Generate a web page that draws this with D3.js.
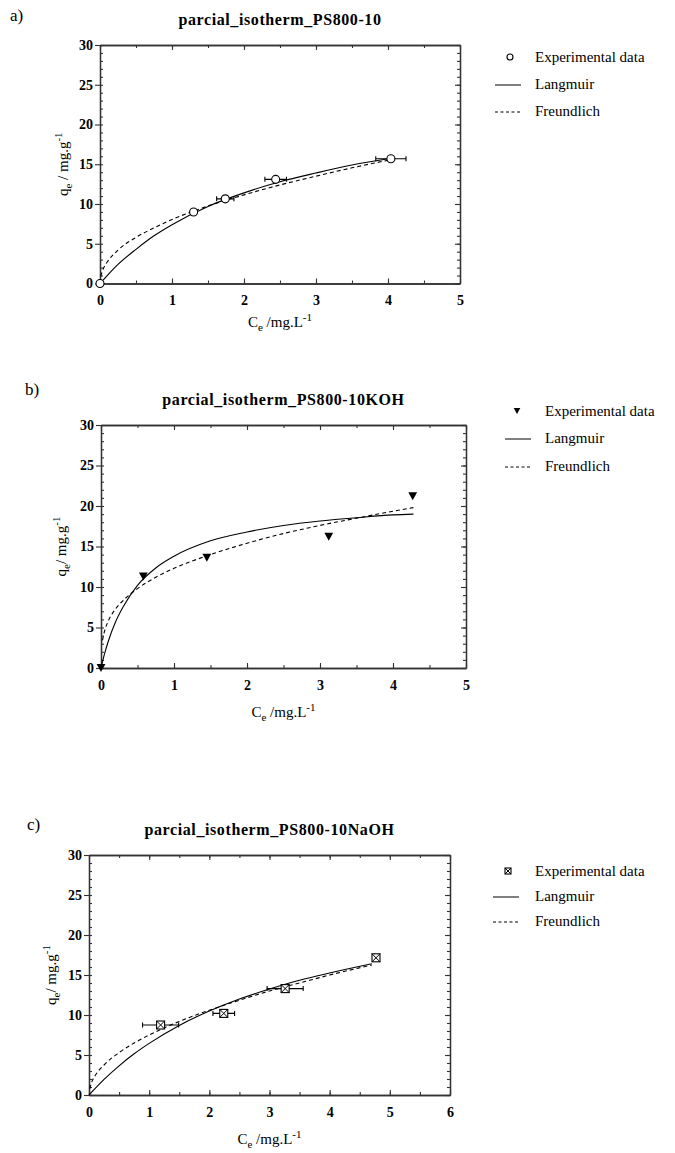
<!DOCTYPE html>
<html>
<head>
<meta charset="utf-8">
<script src="https://cdn.jsdelivr.net/npm/d3@7"></script>
<style>
  body { margin: 0; background: #fff; }
  svg { display: block; font-family: "Liberation Serif", "Times New Roman", serif; }
</style>
</head>
<body>
<svg id="chart" width="675" height="1153"></svg>
<script>
// panel a: PS800-10
const aExpC = [0, 1.30, 1.74, 2.44, 4.04];
const aExpQ = [0, 9.0, 10.65, 13.1, 15.7];
const aExpErr = [0, 0.04, 0.12, 0.15, 0.21];
const aLangC = [0, 0.1, 0.25, 0.5, 0.75, 1, 1.5, 2, 2.5, 3, 3.5, 4.05];
const aLangQ = [0, 1.0, 2.4, 4.3, 6.0, 7.4, 9.7, 11.4, 12.8, 13.9, 14.9, 15.75];
const aFreuC = [0.01, 0.05, 0.1, 0.25, 0.5, 0.75, 1, 1.5, 2, 2.5, 3, 3.5, 4.05];
const aFreuQ = [0.9, 1.95, 2.7, 4.2, 5.8, 7.0, 8.05, 9.75, 11.15, 12.4, 13.5, 14.55, 15.6];

// panel b: PS800-10KOH
const bExpC = [0, 0.58, 1.45, 3.12, 4.27];
const bExpQ = [0, 11.3, 13.6, 16.2, 21.2];
const bLangC = [0, 0.05, 0.1, 0.2, 0.3, 0.5, 0.75, 1, 1.5, 2, 2.5, 3, 3.5, 4, 4.28];
const bLangQ = [0, 1.8, 3.3, 5.7, 7.5, 10.2, 12.35, 13.8, 15.7, 16.8, 17.6, 18.15, 18.55, 18.9, 19.0];
const bFreuC = [0.02, 0.05, 0.1, 0.2, 0.3, 0.5, 0.75, 1, 1.5, 2, 2.5, 3, 3.5, 4, 4.28];
const bFreuQ = [3.4, 4.6, 5.8, 7.3, 8.3, 9.8, 11.2, 12.3, 14.0, 15.4, 16.6, 17.6, 18.5, 19.35, 19.8];

// panel c: PS800-10NaOH
const cExpC = [1.19, 2.24, 3.26, 4.77];
const cExpQ = [8.75, 10.2, 13.3, 17.15];
const cExpErr = [0.30, 0.18, 0.30, 0.05];
const cLangC = [0, 0.25, 0.5, 0.75, 1, 1.5, 2, 2.5, 3, 3.5, 4, 4.7];
const cLangQ = [0, 1.95, 3.65, 5.15, 6.45, 8.7, 10.5, 12.0, 13.25, 14.35, 15.25, 16.4];
const cFreuC = [0.01, 0.05, 0.1, 0.25, 0.5, 0.75, 1, 1.5, 2, 2.5, 3, 3.5, 4, 4.7];
const cFreuQ = [0.75, 1.7, 2.4, 3.75, 5.3, 6.5, 7.5, 9.2, 10.6, 11.85, 13.0, 14.0, 15.0, 16.25];

const legendLabels = ["Experimental data", "Langmuir", "Freundlich"];

const svg = d3.select("#chart");

function zip(cs, qs, errs) {
  return cs.map((c, i) => ({ c, q: qs[i], err: errs ? errs[i] : 0 }));
}

function drawMarker(g, type, cx, cy, s = 4) {
  if (type === "circle") {
    g.append("circle").attr("cx", cx).attr("cy", cy).attr("r", s)
      .attr("fill", "#fff").attr("stroke", "#000").attr("stroke-width", 1.1);
  } else if (type === "triangle") {
    g.append("path")
      .attr("d", `M${cx - s * 1.1},${cy - s} L${cx + s * 1.1},${cy - s} L${cx},${cy + s} Z`)
      .attr("fill", "#000");
  } else {
    g.append("rect").attr("x", cx - s).attr("y", cy - s).attr("width", 2 * s).attr("height", 2 * s)
      .attr("fill", "#fff").attr("stroke", "#000").attr("stroke-width", 1.1);
    g.append("path")
      .attr("d", `M${cx - s},${cy - s} L${cx + s},${cy + s} M${cx + s},${cy - s} L${cx - s},${cy + s}`)
      .attr("stroke", "#000").attr("stroke-width", 1);
  }
}

function drawPanel(cfg) {
  const { left, right, top, bottom, xMax } = cfg;
  const x = d3.scaleLinear().domain([0, xMax]).range([left, right]);
  const y = d3.scaleLinear().domain([0, 30]).range([bottom, top]);
  const g = svg.append("g");

  // panel letter and title
  g.append("text").attr("x", cfg.letterX).attr("y", cfg.letterY)
    .style("font-size", "17px").text(cfg.letter);
  g.append("text").attr("x", (left + right) / 2).attr("y", cfg.titleY)
    .attr("text-anchor", "middle")
    .style("font-size", "16px").style("font-weight", "bold").style("letter-spacing", "0.6px")
    .text(cfg.title);

  const majorX = d3.range(0, xMax + 0.001, 1);
  const minorX = d3.range(0, xMax + 0.001, 0.5);
  const majorY = d3.range(0, 31, 5);
  const minorY = d3.range(0, 31, 1);

  const axisColor = "#333";

  // minor ticks
  g.append("g").attr("transform", `translate(${left},0)`)
    .call(d3.axisLeft(y).tickValues(minorY).tickSize(-3).tickSizeOuter(0).tickFormat(""));
  g.append("g").attr("transform", `translate(${right},0)`)
    .call(d3.axisRight(y).tickValues(minorY).tickSize(-3).tickSizeOuter(0).tickFormat(""));
  g.append("g").attr("transform", `translate(0,${top})`)
    .call(d3.axisTop(x).tickValues(minorX).tickSize(-3).tickSizeOuter(0).tickFormat(""));
  g.append("g").attr("transform", `translate(0,${bottom})`)
    .call(d3.axisBottom(x).tickValues(minorX).tickSize(-3).tickSizeOuter(0).tickFormat(""));

  // major ticks
  g.append("g").attr("transform", `translate(${right},0)`)
    .call(d3.axisRight(y).tickValues(majorY).tickSize(-5).tickSizeOuter(0).tickFormat(""));
  g.append("g").attr("transform", `translate(0,${top})`)
    .call(d3.axisTop(x).tickValues(majorX).tickSize(-5).tickSizeOuter(0).tickFormat(""));

  const xAxis = g.append("g").attr("transform", `translate(0,${bottom})`)
    .call(d3.axisBottom(x).tickValues(majorX).tickSize(-5).tickSizeOuter(0).tickPadding(12)
      .tickFormat(d3.format("d")));
  const yAxis = g.append("g").attr("transform", `translate(${left},0)`)
    .call(d3.axisLeft(y).tickValues(majorY).tickSize(5).tickSizeOuter(0).tickPadding(2)
      .tickFormat(d3.format("d")));

  [xAxis, yAxis].forEach((a) => a.selectAll("text")
    .style("font-family", "Liberation Serif, serif")
    .style("font-size", "14px").style("font-weight", "bold").attr("fill", "#000"));

  g.selectAll(".domain").attr("stroke", axisColor).attr("stroke-width", 1.3);
  g.selectAll(".tick line").attr("stroke", axisColor).attr("stroke-width", 1.1);

  // axis labels
  const xl = g.append("text").attr("x", (left + right) / 2).attr("y", cfg.xLabelY)
    .attr("text-anchor", "middle").style("font-size", "15px");
  xl.append("tspan").text("C");
  xl.append("tspan").attr("dy", 4).style("font-size", "11px").text("e");
  xl.append("tspan").attr("dy", -4).text(" /mg.L");
  xl.append("tspan").attr("dy", -6).style("font-size", "11px").text("-1");

  const yl = g.append("text")
    .attr("transform", `translate(${cfg.yLabelX},${(top + bottom) / 2}) rotate(-90)`)
    .attr("text-anchor", "middle").style("font-size", "15px");
  yl.append("tspan").text("q");
  yl.append("tspan").attr("dy", 4).style("font-size", "11px").text("e");
  yl.append("tspan").attr("dy", -4).text(cfg.ySep + "mg.g");
  yl.append("tspan").attr("dy", -6).style("font-size", "11px").text("-1");

  // fitted curves
  const line = d3.line().x((d) => x(d.c)).y((d) => y(d.q)).curve(d3.curveMonotoneX);
  g.append("path").datum(zip(cfg.langC, cfg.langQ)).attr("d", line)
    .attr("fill", "none").attr("stroke", "#000").attr("stroke-width", 1.1);
  g.append("path").datum(zip(cfg.freuC, cfg.freuQ)).attr("d", line)
    .attr("fill", "none").attr("stroke", "#000").attr("stroke-width", 1.1)
    .attr("stroke-dasharray", "4,3");

  // experimental points with x error bars
  const pts = zip(cfg.expC, cfg.expQ, cfg.expErr);
  const eg = g.append("g");
  pts.filter((d) => d.err > 0.02).forEach((d) => {
    const x0 = x(d.c - d.err), x1 = x(d.c + d.err), yy = y(d.q);
    eg.append("path")
      .attr("d", `M${x0},${yy} L${x1},${yy} M${x0},${yy - 2.5} L${x0},${yy + 2.5} M${x1},${yy - 2.5} L${x1},${yy + 2.5}`)
      .attr("stroke", "#000").attr("stroke-width", 1.1).attr("fill", "none");
  });
  pts.forEach((d) => drawMarker(eg, cfg.marker, x(d.c), y(d.q)));

  // legend
  const lg = g.append("g");
  const [r0, r1, r2] = cfg.legendY;
  drawMarker(lg, cfg.marker, cfg.legendMarkX, r0 - 5, 3);
  lg.append("line").attr("x1", cfg.legendLineX).attr("x2", cfg.legendLineX + 26)
    .attr("y1", r1 - 4).attr("y2", r1 - 4).attr("stroke", "#000").attr("stroke-width", 1);
  lg.append("line").attr("x1", cfg.legendLineX).attr("x2", cfg.legendLineX + 26)
    .attr("y1", r2 - 4).attr("y2", r2 - 4).attr("stroke", "#000").attr("stroke-width", 1)
    .attr("stroke-dasharray", "3,2.5");
  [r0, r1, r2].forEach((ry, i) => {
    lg.append("text").attr("x", cfg.legendTextX).attr("y", ry)
      .style("font-size", "15px").text(legendLabels[i]);
  });
}

drawPanel({
  letter: "a)", letterX: 10, letterY: 21,
  title: "parcial_isotherm_PS800-10", titleY: 25,
  left: 100, right: 460, top: 45, bottom: 283.5, xMax: 5,
  xLabelY: 327, yLabelX: 68, ySep: " / ",
  expC: aExpC, expQ: aExpQ, expErr: aExpErr, marker: "circle",
  langC: aLangC, langQ: aLangQ, freuC: aFreuC, freuQ: aFreuQ,
  legendY: [62, 89, 116], legendMarkX: 510, legendLineX: 495, legendTextX: 535,
});

drawPanel({
  letter: "b)", letterX: 25, letterY: 395,
  title: "parcial_isotherm_PS800-10KOH", titleY: 405,
  left: 101, right: 466, top: 425, bottom: 668, xMax: 5,
  xLabelY: 717, yLabelX: 66, ySep: "/ ",
  expC: bExpC, expQ: bExpQ, expErr: null, marker: "triangle",
  langC: bLangC, langQ: bLangQ, freuC: bFreuC, freuQ: bFreuQ,
  legendY: [416, 443, 471], legendMarkX: 517, legendLineX: 505, legendTextX: 545,
});

drawPanel({
  letter: "c)", letterX: 27, letterY: 830,
  title: "parcial_isotherm_PS800-10NaOH", titleY: 835,
  left: 89, right: 450, top: 855, bottom: 1095, xMax: 6,
  xLabelY: 1144, yLabelX: 56, ySep: "/ ",
  expC: cExpC, expQ: cExpQ, expErr: cExpErr, marker: "square",
  langC: cLangC, langQ: cLangQ, freuC: cFreuC, freuQ: cFreuQ,
  legendY: [876, 901, 926], legendMarkX: 508, legendLineX: 493, legendTextX: 535,
});
</script>
</body>
</html>
